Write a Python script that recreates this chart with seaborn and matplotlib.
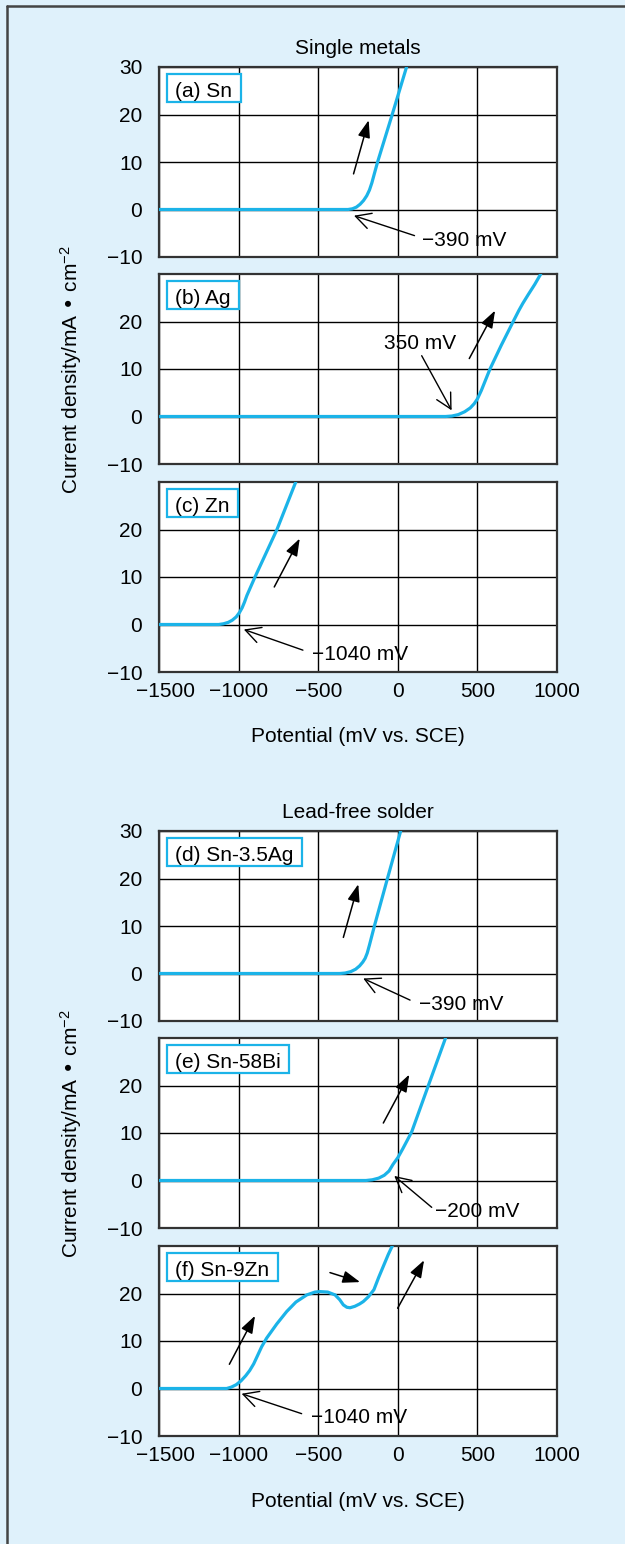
import matplotlib
matplotlib.use("Agg")
import seaborn as sns
from matplotlib import pyplot as plt
from matplotlib.patches import Rectangle
from matplotlib.lines import Line2D
from matplotlib.transforms import ScaledTranslation

# polarization curves
# potential in mV vs. SCE, current density in mA/cm2
sn_mv = [-1500, -313, -285, -260, -237, -215, -195, -178, -163, -150, -127, -35, 55]
sn_ma = [0, 0, 0.15, 0.5, 1.1, 1.9, 2.9, 4.1, 5.6, 7.2, 10, 20, 30]

ag_mv = [-1500, 300, 340, 380, 420, 455, 480, 500, 525, 579, 650, 725, 760, 785, 820, 860, 898]
ag_ma = [0, 0, 0.1, 0.4, 1.0, 1.8, 2.7, 3.7, 5.5, 10, 15, 20, 22.3, 23.8, 25.7, 27.8, 30]

zn_mv = [-1500, -1125, -1095, -1065, -1040, -1015, -995, -978, -963, -948, -897, -759, -641]
zn_ma = [0, 0, 0.15, 0.45, 0.9, 1.6, 2.5, 3.5, 4.7, 6.1, 10, 20, 30]

snag_mv = [-1500, -365, -330, -295, -265, -240, -220, -205, -192, -178, -147, -65, 18]
snag_ma = [0, 0, 0.1, 0.4, 0.9, 1.6, 2.4, 3.2, 4.3, 6.0, 10, 20, 30]

snbi_mv = [-1500, -200, -160, -120, -85, -55, -30, 0, 30, 60, 88, 192, 300]
snbi_ma = [0, 0, 0.15, 0.5, 1.1, 2.0, 3.4, 4.8, 6.6, 8.5, 10.3, 20, 30]

snzn_mv = [-1500, -1075, -1045, -1015, -985, -955, -930, -905, -880, -855, -824, -760,
           -698, -640, -572, -520, -489, -440, -394, -365, -342, -320, -300, -270,
           -240, -217, -185, -150, -120, -90, -60, -28]
snzn_ma = [0, 0, 0.3, 0.8, 1.6, 2.7, 3.8, 5.2, 7.0, 8.8, 10.6, 13.6,
           16.2, 18.2, 19.7, 20.3, 20.4, 20.3, 19.7, 18.7, 17.6, 17.1, 17.0, 17.3,
           17.8, 18.3, 19.3, 20.8, 23.4, 25.8, 28.2, 30.5]

panel_names = ["(a) Sn", "(b) Ag", "(c) Zn", "(d) Sn-3.5Ag", "(e) Sn-58Bi", "(f) Sn-9Zn"]
curves = [(sn_mv, sn_ma), (ag_mv, ag_ma), (zn_mv, zn_ma),
          (snag_mv, snag_ma), (snbi_mv, snbi_ma), (snzn_mv, snzn_ma)]
group_titles = ["Single metals", "Lead-free solder"]
x_ticks = [-1500, -1000, -500, 0, 500, 1000]
y_ticks = [-10, 0, 10, 20, 30]

# sweep-direction arrows (tail, head) and the onset potential notes
sweep_arrows = [
    [((-278, 7.5), (-183, 18.8))],
    [((449, 12.2), (611, 22.3))],
    [((-776, 7.9), (-616, 18.1))],
    [((-342, 7.6), (-248, 18.8))],
    [((-91, 12.1), (72, 22.3))],
    [((-1058, 5.1), (-897, 15.3)), ((-426, 24.4), (-237, 22.4)), ((-1, 16.9), (165, 27))],
]
notes = [
    ("\u2212390 mV", (416, -6.1), (105, -5.5), (-275, -1.3)),
    ("350 mV", (138, 15.7), (150, 12.8), (338, 1.3)),
    ("\u22121040 mV", (-237, -5.9), (-596, -5.4), (-967, -1.05)),
    ("\u2212390 mV", (396, -6.0), (77, -5.6), (-217, -1.05)),
    ("\u2212200 mV", (496, -6.2), (213, -5.65), (-22, 0.96)),
    ("\u22121040 mV", (-244, -5.7), (-604, -5.3), (-981, -1.1)),
]

LINE = "#1bb3e8"
BG = "#dff1fb"
W, H = 625, 1544
panel_tops = [67, 274, 482, 831, 1038, 1246]

sns.set_style("white")
plt.rcParams["font.family"] = ["Liberation Sans", "DejaVu Sans"]
plt.rcParams["mathtext.default"] = "regular"
plt.rcParams["text.color"] = "black"
plt.rcParams["xtick.color"] = "black"
plt.rcParams["ytick.color"] = "black"
FS = 15

fig = plt.figure(figsize=(W / 100, H / 100), dpi=100, facecolor=BG)

axes = []
for i, top in enumerate(panel_tops):
    ax = fig.add_axes([159 / W, 1 - (top + 190) / H, 398 / W, 190 / H])
    axes.append(ax)
    mv, ma = curves[i]
    sns.lineplot(x=mv, y=ma, ax=ax, color=LINE, linewidth=2.3, sort=False, zorder=3)
    ax.set_xlim(-1500, 1000)
    ax.set_ylim(-10, 30)
    ax.set_xticks(x_ticks)
    ax.set_yticks(y_ticks if i in (0, 3) else y_ticks[:-1])
    ax.set_facecolor("white")
    ax.grid(True, color="black", linewidth=1.0)
    ax.set_axisbelow(True)
    for s in ax.spines.values():
        s.set_color("#333333")
        s.set_linewidth(1.6)
    ax.tick_params(length=0, labelsize=FS, pad=12, axis="y", labelcolor="black")
    ax.tick_params(length=0, labelsize=FS, pad=7, axis="x", labelcolor="black",
                   labelbottom=(i in (2, 5)))
    ax.set_xlabel("")
    ax.set_ylabel("")
    if i in (2, 5):
        lab = ax.get_xticklabels()[0]
        lab.set_transform(lab.get_transform() + ScaledTranslation(0.07, 0, fig.dpi_scale_trans))

    for tail, head in sweep_arrows[i]:
        ax.annotate("", xy=head, xytext=tail,
                    arrowprops=dict(arrowstyle="-|>,head_length=0.7,head_width=0.25",
                                    color="black", lw=1.1, mutation_scale=15,
                                    shrinkA=0, shrinkB=0), zorder=6)
    txt, pos, tail, head = notes[i]
    ax.text(pos[0], pos[1] - 1.58, txt, fontsize=FS, ha="center", va="baseline",
            color="black", zorder=6)
    ax.annotate("", xy=head, xytext=tail,
                arrowprops=dict(arrowstyle="->,head_length=0.72,head_width=0.38",
                                color="black", lw=1.0, mutation_scale=15,
                                shrinkA=0, shrinkB=0), zorder=6)

# panel name boxes
fig.canvas.draw()
renderer = fig.canvas.get_renderer()
for i, ax in enumerate(axes):
    base = 1 - 29.7 / 190
    t = ax.text(15.6 / 398, base, panel_names[i], transform=ax.transAxes,
                fontsize=FS, ha="left", va="baseline", color="black", zorder=8)
    bb = t.get_window_extent(renderer)
    base_px = ax.transAxes.transform((0, base))[1]
    x0, x1 = bb.x0 - 8, bb.x1 + 9
    y0, y1 = base_px - 5.3, base_px + 22.7
    ax.add_patch(Rectangle((x0 / W, y0 / H), (x1 - x0) / W, (y1 - y0) / H,
                           transform=fig.transFigure, facecolor="white",
                           edgecolor=LINE, linewidth=1.6, clip_on=False, zorder=7))

# group titles, axis labels
for k, (title_base, xlab_base, mid) in enumerate([(54, 741.7, 369.5), (818.3, 1506.7, 1133.5)]):
    fig.text(358 / W, 1 - title_base / H, group_titles[k], fontsize=FS,
             ha="center", va="baseline", color="black")
    fig.text(358 / W, 1 - xlab_base / H, "Potential (mV vs. SCE)", fontsize=FS,
             ha="center", va="baseline", color="black")
    fig.text(71 / W, 1 - mid / H, "Current density/mA \u2022 cm$^{-2}$", fontsize=FS,
             ha="center", va="center", rotation=90, color="black")

# frame around the figure (left and top only)
fig.add_artist(Line2D([6.5 / W, 6.5 / W], [0, 1 - 5.5 / H], transform=fig.transFigure,
                      color="#444444", linewidth=1.8))
fig.add_artist(Line2D([6.5 / W, 1], [1 - 5.5 / H, 1 - 5.5 / H], transform=fig.transFigure,
                      color="#444444", linewidth=1.8))

fig.savefig("out.png", dpi=100, facecolor=BG)
